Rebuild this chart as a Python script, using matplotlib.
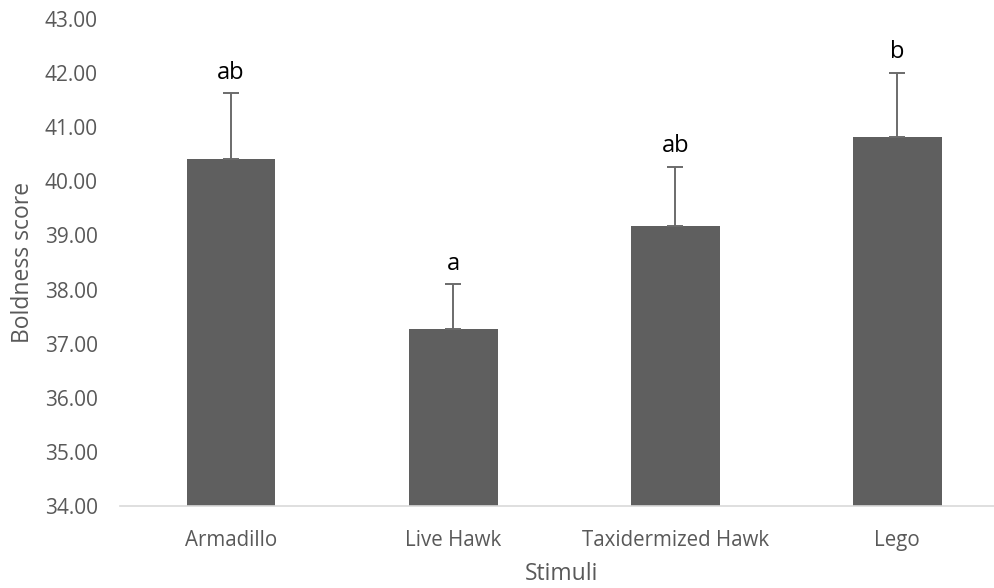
import numpy as np
import matplotlib.pyplot as plt

stimuli = ['Armadillo', 'Live Hawk', 'Taxidermized Hawk', 'Lego']
scores = [40.42, 37.27, 39.18, 40.82]
errors = [1.21, 0.83, 1.09, 1.19]
letters = ['ab', 'a', 'ab', 'b']

plt.rcParams['font.family'] = ['Open Sans', 'DejaVu Sans']

fig = plt.figure(figsize=(9.95, 5.88), dpi=100)
ax = fig.add_axes([120 / 995, 82 / 588, 875 / 995, 487 / 588])

x = np.arange(len(stimuli))
ax.bar(x, np.array(scores) - 34, bottom=34, width=0.4, color='#5f5f5f', zorder=2)
ax.errorbar(x, scores, yerr=[np.zeros(len(errors)), errors], fmt='none',
            ecolor='#6b6b6b', elinewidth=1.4, capsize=5.5, capthick=1.4, zorder=3)

# significance letters above each error bar
for xi, s, e, lab in zip(x, scores, errors, letters):
    ax.annotate(lab, (xi, s + e), xytext=(0, 10.5), textcoords='offset points',
                ha='center', va='baseline', fontsize=17, color='black')

ax.set_xlim(-0.5, 3.44)
ax.set_ylim(34, 43)
ax.set_yticks(np.arange(34, 44, 1))
ax.set_yticklabels([f'{v:.2f}' for v in np.arange(34, 44, 1)], fontsize=15)
ax.set_xticks(x)
ax.set_xticklabels(stimuli, fontsize=14.8)

for side in ['top', 'right', 'left']:
    ax.spines[side].set_visible(False)
ax.spines['bottom'].set_color('#d9d9d9')
ax.spines['bottom'].set_linewidth(1.2)
ax.tick_params(axis='both', length=0, colors='#595959')
ax.tick_params(axis='y', pad=16)
ax.tick_params(axis='x', pad=17)

# x title sits right at the bottom edge of the figure
ax.set_xlabel('Stimuli', fontsize=16.5, color='#595959', va='bottom')
ax.xaxis.set_label_coords(0.505, -80 / 487)
ax.set_ylabel('Boldness score', fontsize=16.5, color='#595959', labelpad=7)

fig.savefig('out.png', dpi=100)
